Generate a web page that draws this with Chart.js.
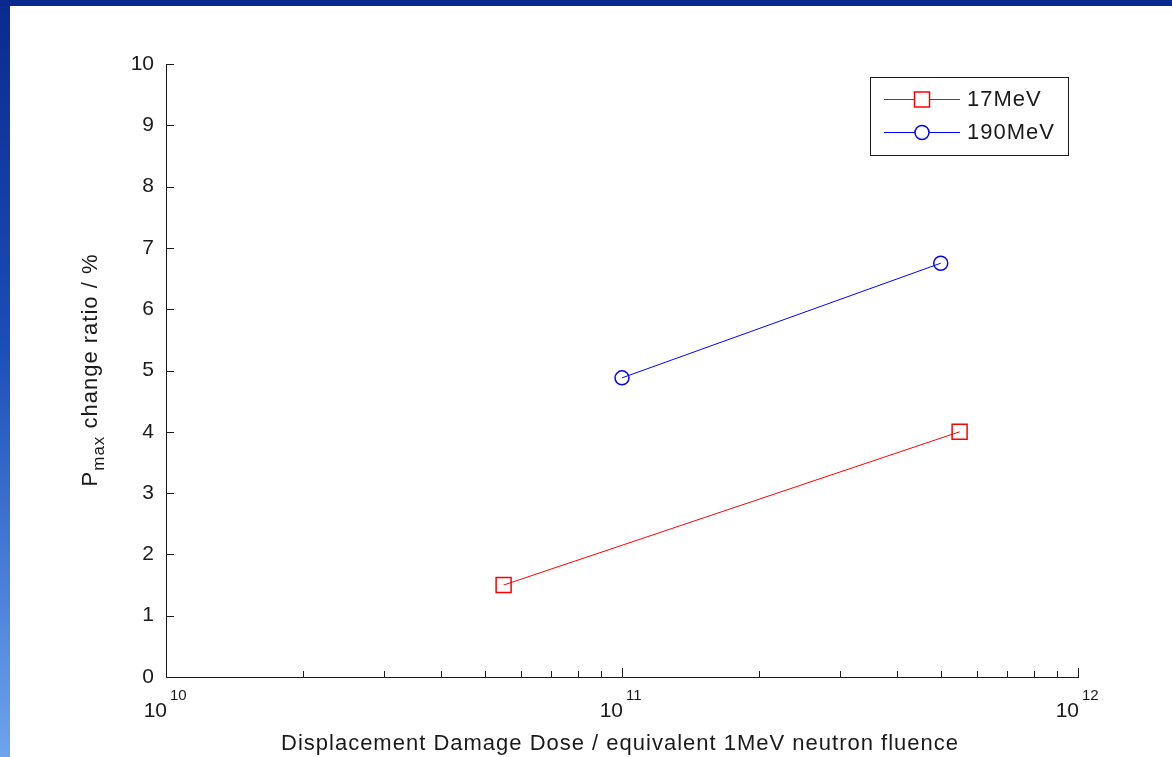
<!DOCTYPE html>
<html>
<head>
<meta charset="utf-8">
<script src="https://cdn.jsdelivr.net/npm/chart.js@4/dist/chart.umd.min.js"></script>
<style>
  html, body { margin: 0; padding: 0; }
  body {
    width: 1172px; height: 757px; overflow: hidden; position: relative;
    background: linear-gradient(to bottom, #0a2a8f 0%, #1b4db8 45%, #6ea3ee 100%);
  }
  #topbar { position: absolute; left: 0; top: 0; width: 1172px; height: 6px; background: #082a8e; }
  #paper { position: absolute; left: 10px; top: 6px; width: 1162px; height: 751px; background: #fff; }
  #chartjs_fluence { position: absolute; left: 0; top: 0; }
</style>
</head>
<body>
<div id="topbar"></div>
<div id="paper"></div>
<canvas id="chartjs_fluence" width="1172" height="757"></canvas>
<script>
// data
var seriesNames = ["17MeV", "190MeV"];
var fluence17 = [5.5e10, 5.5e11];
var ratio17 = [1.5, 4.0];
var fluence190 = [1.0e11, 5.0e11];
var ratio190 = [4.88, 6.75];
var xDecades = [10, 11, 12];
var yTicks = [0, 1, 2, 3, 4, 5, 6, 7, 8, 9, 10];

var FONT = "'Liberation Sans', Arial, Helvetica, sans-serif";
var INK = "#1a1a1a";

function pts(xs, ys) {
	return xs.map(function (x, i) { return { x: x, y: ys[i] }; });
}

// inward tick marks, x labels with exponents, axis titles and the boxed legend
var decorations = {
	id: 'decorations',
	afterDraw: function (chart) {
		var ctx = chart.ctx;
		var xs = chart.scales.x, ys = chart.scales.y;
		var area = chart.chartArea;
		ctx.save();
		ctx.strokeStyle = INK;
		ctx.lineWidth = 1;

		// y ticks
		yTicks.forEach(function (v) {
			var py = Math.round(ys.getPixelForValue(v)) + 0.5;
			ctx.beginPath();
			ctx.moveTo(area.left, py);
			ctx.lineTo(area.left + 8, py);
			ctx.stroke();
		});

		// x ticks, major and minor
		for (var d = 0; d < xDecades.length; d++) {
			var base = Math.pow(10, xDecades[d]);
			for (var m = 1; m <= 9; m++) {
				if (d === xDecades.length - 1 && m > 1) break;
				var px = Math.round(xs.getPixelForValue(base * m)) + 0.5;
				var len = m === 1 ? 9 : 6;
				ctx.beginPath();
				ctx.moveTo(px, area.bottom);
				ctx.lineTo(px, area.bottom - len);
				ctx.stroke();
			}
		}

		// x tick labels 10^n
		ctx.fillStyle = INK;
		ctx.textBaseline = 'alphabetic';
		xDecades.forEach(function (e) {
			var px = xs.getPixelForValue(Math.pow(10, e));
			ctx.font = "21px " + FONT;
			ctx.textAlign = 'right';
			ctx.fillText("10", px + 1, 717);
			ctx.font = "15px " + FONT;
			ctx.textAlign = 'left';
			ctx.fillText(String(e), px + 4, 700);
		});

		// x title
		ctx.letterSpacing = '1px';
		ctx.font = "22px " + FONT;
		ctx.textAlign = 'center';
		ctx.fillText("Displacement Damage Dose / equivalent 1MeV neutron fluence", 620, 750);

		// y title with subscript
		ctx.save();
		ctx.translate(97, 370);
		ctx.rotate(-Math.PI / 2);
		var t1 = "P", t2 = "max", t3 = " change ratio / %";
		ctx.font = "22px " + FONT;
		var w1 = ctx.measureText(t1).width, w3 = ctx.measureText(t3).width;
		ctx.font = "17px " + FONT;
		var w2 = ctx.measureText(t2).width;
		var x0 = -(w1 + w2 + w3) / 2;
		ctx.textAlign = 'left';
		ctx.font = "22px " + FONT;
		ctx.fillText(t1, x0, 0);
		ctx.font = "17px " + FONT;
		ctx.fillText(t2, x0 + w1, 7);
		ctx.font = "22px " + FONT;
		ctx.fillText(t3, x0 + w1 + w2, 0);
		ctx.restore();

		// legend
		ctx.strokeStyle = INK;
		ctx.strokeRect(870.5, 77.5, 198, 78);
		var rows = [
			{ y: 99, color: '#ff0000', style: 'rect' },
			{ y: 132, color: '#0000ff', style: 'circle' }
		];
		rows.forEach(function (r, i) {
			ctx.strokeStyle = r.color;
			ctx.lineWidth = 1;
			ctx.beginPath();
			ctx.moveTo(884, r.y + 0.5);
			ctx.lineTo(960, r.y + 0.5);
			ctx.stroke();
			ctx.lineWidth = 1.5;
			ctx.fillStyle = '#fff';
			ctx.beginPath();
			if (r.style === 'rect') {
				ctx.rect(914.5, r.y - 7, 15, 15);
			} else {
				ctx.arc(922, r.y + 0.5, 7, 0, Math.PI * 2);
			}
			ctx.fill();
			ctx.stroke();
			ctx.fillStyle = INK;
			ctx.font = "22px " + FONT;
			ctx.textAlign = 'left';
			ctx.textBaseline = 'middle';
			ctx.fillText(seriesNames[i], 967, r.y + 1);
		});
		ctx.restore();
	}
};

var ctx = document.getElementById("chartjs_fluence").getContext('2d');
var myChart = new Chart(ctx, {
	type: 'line',
	data: {
		datasets: [{
			label: seriesNames[0],
			data: pts(fluence17, ratio17),
			borderColor: '#ff0000',
			backgroundColor: 'rgba(0,0,0,0)',
			borderWidth: 1,
			pointStyle: 'rect',
			pointRadius: 10.6,
			pointBorderWidth: 1.5,
			pointBackgroundColor: 'rgba(0,0,0,0)',
			tension: 0
		}, {
			label: seriesNames[1],
			data: pts(fluence190, ratio190),
			borderColor: '#0000ff',
			backgroundColor: 'rgba(0,0,0,0)',
			borderWidth: 1,
			pointStyle: 'circle',
			pointRadius: 7,
			pointBorderWidth: 1.5,
			pointBackgroundColor: 'rgba(0,0,0,0)',
			tension: 0
		}]
	},
	options: {
		responsive: false,
		animation: false,
		layout: { padding: { top: 64, right: 94, left: 0, bottom: 0 } },
		plugins: { legend: { display: false }, tooltip: { enabled: false } },
		scales: {
			x: {
				type: 'logarithmic',
				min: 1e10,
				max: 1e12,
				grid: { display: false },
				border: { display: true, color: INK, width: 1 },
				ticks: { display: false },
				afterFit: function (scale) { scale.height = 80; }
			},
			y: {
				min: 0,
				max: 10,
				grid: { display: false },
				border: { display: true, color: INK, width: 1 },
				ticks: {
					stepSize: 1,
					padding: 4,
					color: INK,
					font: { family: FONT, size: 21 }
				},
				afterFit: function (scale) { scale.width = 166; }
			}
		}
	},
	plugins: [decorations]
});
</script>
</body>
</html>
